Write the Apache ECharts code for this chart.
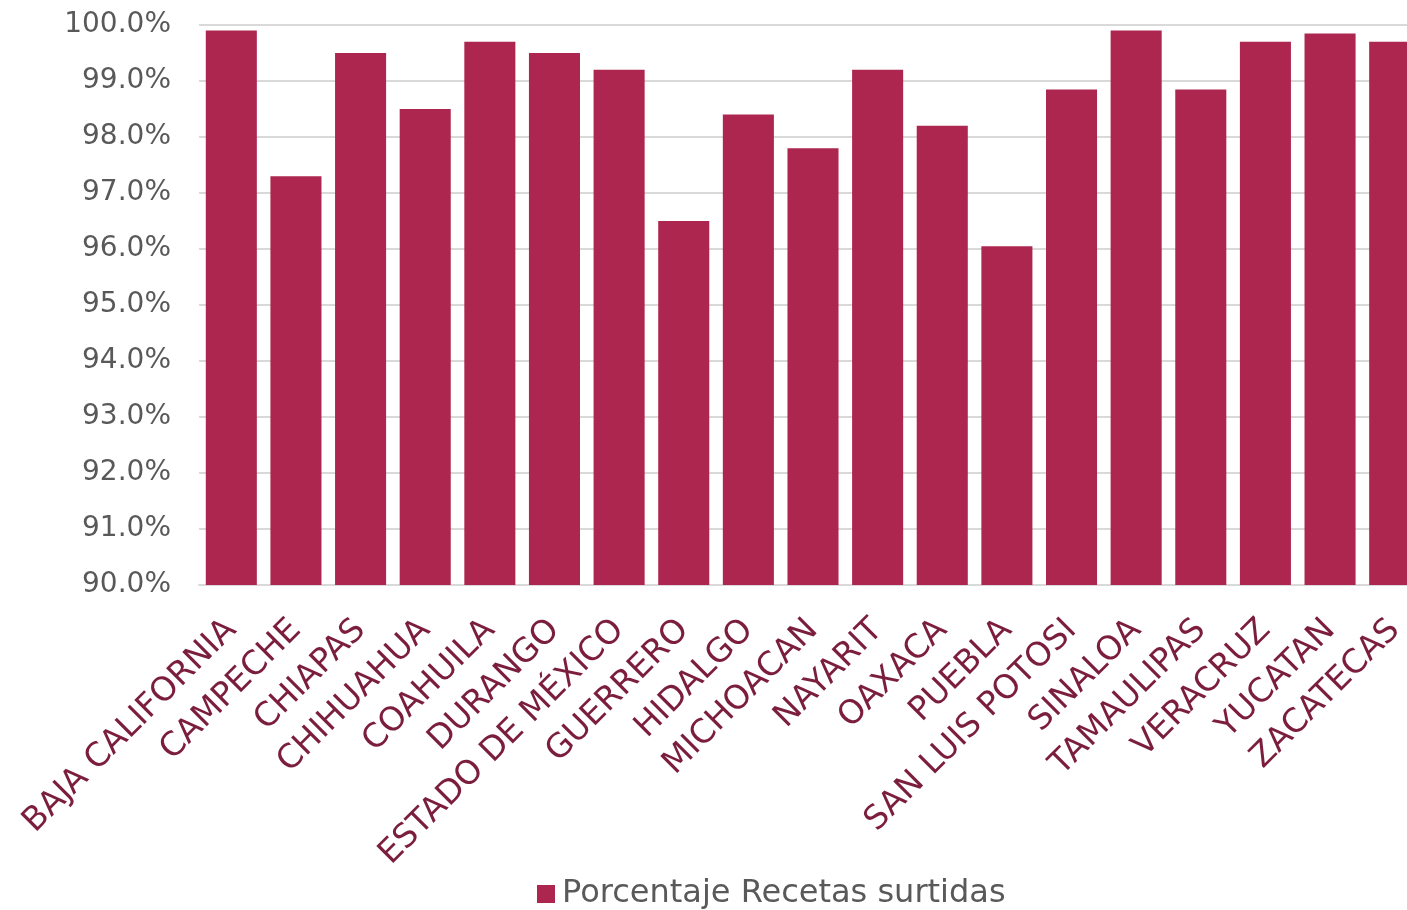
<!DOCTYPE html>
<html>
<head>
<meta charset="utf-8">
<script src="https://cdn.jsdelivr.net/npm/echarts@6/dist/echarts.min.js"></script>
<style>
html,body{margin:0;padding:0;background:#fff;}
#chart{width:1407px;height:910px;}
</style>
</head>
<body>
<div id="chart"></div>
<script>
const categories = ['BAJA CALIFORNIA','CAMPECHE','CHIAPAS','CHIHUAHUA','COAHUILA','DURANGO','ESTADO DE MÉXICO','GUERRERO','HIDALGO','MICHOACAN','NAYARIT','OAXACA','PUEBLA','SAN LUIS POTOSI','SINALOA','TAMAULIPAS','VERACRUZ','YUCATAN','ZACATECAS'];
const porcentajeRecetas = [99.9, 97.3, 99.5, 98.5, 99.7, 99.5, 99.2, 96.5, 98.4, 97.8, 99.2, 98.2, 96.05, 98.85, 99.9, 98.85, 99.7, 99.85, 99.7];
const seriesName = 'Porcentaje Recetas surtidas';

const chart = echarts.init(document.getElementById('chart'));
chart.setOption({
  backgroundColor: '#ffffff',
  animation: false,
  grid: { left: 199, width: 1228, top: 25, bottom: 325, containLabel: false, outerBoundsMode: 'none' },
  legend: {
    data: [seriesName],
    bottom: 0,
    left: 537,
    padding: [0, 0, 0, 0],
    icon: 'rect',
    itemWidth: 18,
    itemHeight: 18,
    itemGap: 8,
    textStyle: { color: '#595959', fontSize: 32, fontFamily: 'DejaVu Sans', padding: [0, 0, 0, 2] }
  },
  xAxis: {
    type: 'category',
    data: categories,
    axisLine: { show: true, lineStyle: { color: '#d9d9d9', width: 2 } },
    axisTick: { show: false },
    axisLabel: {
      interval: 0,
      rotate: 45,
      margin: 40,
      color: '#7b1e3e',
      fontSize: 33,
      fontFamily: 'DejaVu Sans',
      fontWeight: 'normal'
    }
  },
  yAxis: {
    type: 'value',
    min: 90,
    max: 100,
    interval: 1,
    axisLine: { show: false },
    axisTick: { show: false },
    splitLine: { lineStyle: { color: '#d9d9d9', width: 2 } },
    axisLabel: {
      margin: 28,
      color: '#595959',
      fontSize: 28,
      fontFamily: 'DejaVu Sans',
      formatter: v => v.toFixed(1) + '%'
    }
  },
  series: [{
    name: seriesName,
    type: 'bar',
    data: porcentajeRecetas,
    barCategoryGap: '21%',
    itemStyle: { color: '#ad2650' }
  }]
});
</script>
</body>
</html>
